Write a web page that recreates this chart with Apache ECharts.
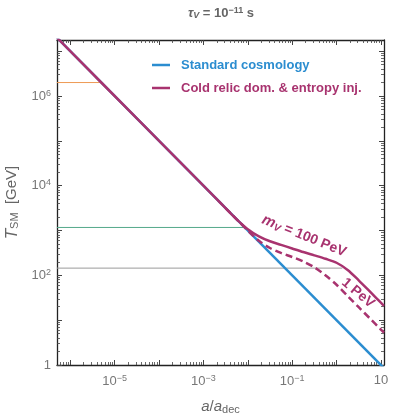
<!DOCTYPE html>
<html lang="en">
<head>
<meta charset="UTF-8">
<title>T_SM vs a/a_dec</title>
<script src="https://cdn.jsdelivr.net/npm/echarts@6/dist/echarts.min.js"></script>
<style>
  html, body { margin: 0; padding: 0; background: #fff; }
  #chartmain { width: 399px; height: 416px; }
</style>
</head>
<body>
<div id="chartmain"></div>
<script type="text/javascript">
// values: a/a_dec and T_SM [GeV]
var aStd = [5.0e-7, 11.7];
var TStd = [2.0e7, 0.855];

var a100 = [5.01e-7, 3.16e-5, 1.78e-3, 3.16e-3, 5.62e-3, 0.01, 0.0178, 0.0316, 0.0562, 0.1, 0.178, 0.316, 0.562, 1, 1.78, 3.16, 5.62, 10, 11.75];
var T100 = [2.0e7, 3.16e5, 5623, 3162, 1778, 1072, 741, 575, 479, 398, 331, 279, 234, 191, 132, 77.6, 43.7, 24.5, 20.9];

var a1 = [3.16e-3, 5.62e-3, 0.01, 0.0178, 0.0316, 0.0562, 0.1, 0.178, 0.316, 0.562, 1, 1.78, 3.16, 5.62, 10, 11.75];
var T1 = [3162, 1778, 1000, 589, 407, 316, 257, 204, 151, 100, 61.7, 34.7, 19.5, 11.0, 6.17, 5.25];

// horizontal reference lines
var aOrange = [5.0e-7, 5.0e-6];  var TOrange = [2.0e6, 2.0e6];
var aGreen = [5.0e-7, 8.9e-3];   var TGreen = [1170, 1170];
var aGray = [5.0e-7, 1.35];      var TGray = [145, 145];

var xTickLabels = [1e-5, 1e-3, 1e-1, 10];
var yTickLabels = [1, 1e2, 1e4, 1e6];

var xMin = -6.3, xMax = 1.07, yMin = 0, yMax = 7.25;

var blue = '#2b8dd0';
var purple = '#a8336f';

function pts(a, T) {
    var out = [];
    for (var i = 0; i < a.length; i++) out.push([Math.log10(a[i]), Math.log10(T[i])]);
    return out;
}
function majors(lo, hi) {
    var out = [];
    for (var n = Math.ceil(lo); n <= hi; n++) out.push(n);
    return out;
}
function minors(lo, hi) {
    var out = [];
    for (var n = Math.floor(lo); n <= hi; n++) {
        for (var k = 2; k <= 9; k++) {
            var v = n + Math.log10(k);
            if (v > lo && v < hi) out.push(v);
        }
    }
    return out;
}
function fmt(v) {
    var e = Math.round(v);
    if (e === 0) return '1';
    if (e === 1) return '10';
    return '10{sup|' + String(e).replace('-', '\u2212') + '}';
}
var labRich = {
    sup: { fontSize: 9, verticalAlign: 'top', color: '#777', padding: [0, 0, 6, 0] }
};

function axisSet(isX) {
    var lo = isX ? xMin : yMin, hi = isX ? xMax : yMax;
    var labs = (isX ? xTickLabels : yTickLabels).map(function (v) { return Math.log10(v); });
    var pos = isX ? ['bottom', 'top'] : ['left', 'right'];
    var list = [];
    pos.forEach(function (p, i) {
        list.push({
            type: 'value', position: p, min: lo, max: hi,
            axisLine: { show: true, onZero: false, lineStyle: { color: '#222', width: 1.3 } },
            splitLine: { show: false },
            axisTick: { show: true, inside: true, length: 5, customValues: majors(lo, hi), lineStyle: { color: '#444', width: 1 } },
            axisLabel: i === 0 ? {
                show: true, customValues: labs, formatter: fmt, rich: labRich,
                color: '#777', fontSize: 13, fontFamily: 'Liberation Sans', margin: isX ? 9 : 6
            } : { show: false }
        });
        list.push({
            type: 'value', position: p, min: lo, max: hi,
            axisLine: { show: false, onZero: false },
            splitLine: { show: false },
            axisLabel: { show: false },
            axisTick: { show: true, inside: true, length: 3, customValues: minors(lo, hi), lineStyle: { color: '#444', width: 0.8 } }
        });
    });
    return list;
}

var xAxes = axisSet(true);
xAxes[0].name = '{i|a}/{i|a}{sub|dec}';
xAxes[0].nameLocation = 'middle';
xAxes[0].nameGap = 33;
xAxes[0].nameTextStyle = {
    color: '#666', fontSize: 15, fontFamily: 'Liberation Sans',
    rich: {
        i: { fontStyle: 'italic', fontSize: 15, color: '#666' },
        sub: { fontSize: 11, verticalAlign: 'bottom', color: '#666', padding: [6, 0, 0, 0] }
    }
};
var yAxes = axisSet(false);
yAxes[0].name = '{i|T}{sub|SM}  [GeV]';
yAxes[0].nameLocation = 'middle';
yAxes[0].nameGap = 36;
yAxes[0].nameTextStyle = {
    color: '#666', fontSize: 15, fontFamily: 'Liberation Sans',
    rich: {
        i: { fontStyle: 'italic', fontSize: 17, color: '#666' },
        sub: { fontSize: 11, verticalAlign: 'bottom', color: '#666', padding: [6, 0, 0, 0] }
    }
};

function hline(name, a, T, color) {
    return {
        name: name, type: 'line', data: pts(a, T), symbol: 'none', silent: true,
        lineStyle: { color: color, width: 1 }, z: 1
    };
}

var myChart = echarts.init(document.getElementById('chartmain'), null, { renderer: 'canvas' });
var option = {
    animation: false,
    grid: { left: 57, right: 15, top: 40, bottom: 51, containLabel: false, outerBoundsMode: 'none' },
    xAxis: xAxes,
    yAxis: yAxes,
    legend: {
        left: 147, top: 52, orient: 'vertical', icon: 'rect',
        itemWidth: 18, itemHeight: 2.5, itemGap: 7,
        textStyle: { fontWeight: 'bold', fontSize: 13, lineHeight: 16, fontFamily: 'Liberation Sans', padding: [0, 0, 0, 6] },
        data: [
            { name: 'Standard cosmology', textStyle: { color: blue } },
            { name: 'Cold relic dom. & entropy inj.', textStyle: { color: purple } }
        ]
    },
    graphic: [
        {
            type: 'text', x: 221, y: 13,
            style: {
                text: '{g|\u03c4}{s|V}{t| = 10}{p|\u221211}{t| s}',
                align: 'center', verticalAlign: 'middle',
                rich: {
                    g: { fontSize: 13, fontWeight: 'bold', fontStyle: 'italic', fill: '#666', fontFamily: 'Liberation Sans' },
                    t: { fontSize: 13, fontWeight: 'bold', fill: '#666', fontFamily: 'Liberation Sans' },
                    s: { fontSize: 9, fontWeight: 'bold', fontStyle: 'italic', fill: '#666', verticalAlign: 'bottom', padding: [5, 0, 0, 0] },
                    p: { fontSize: 9, fontWeight: 'bold', fill: '#666', verticalAlign: 'top', padding: [0, 0, 5, 0] }
                }
            }
        },
        {
            type: 'text', x: 304, y: 236, rotation: -22 * Math.PI / 180,
            style: {
                text: '{m|m}{s|V}{t| = 100 PeV}', align: 'center', verticalAlign: 'middle',
                rich: {
                    m: { fontSize: 15, fontWeight: 'bold', fontStyle: 'italic', fill: purple, fontFamily: 'Liberation Sans' },
                    t: { fontSize: 14, fontWeight: 'bold', fill: purple, fontFamily: 'Liberation Sans' },
                    s: { fontSize: 10, fontWeight: 'bold', fontStyle: 'italic', fill: purple, verticalAlign: 'bottom', padding: [6, 0, 0, 0] }
                }
            }
        },
        {
            type: 'text', x: 358, y: 293, rotation: -40 * Math.PI / 180,
            style: {
                text: '1 PeV', align: 'center', verticalAlign: 'middle',
                fontSize: 14, fontWeight: 'bold', fill: purple, fontFamily: 'Liberation Sans'
            }
        }
    ],
    series: [
        hline('orange', aOrange, TOrange, '#ee9a55'),
        hline('green', aGreen, TGreen, '#55a98a'),
        hline('gray', aGray, TGray, '#9a9a9a'),
        {
            name: 'Standard cosmology', type: 'line', data: pts(aStd, TStd), symbol: 'none',
            lineStyle: { color: blue, width: 2.5 }, itemStyle: { color: blue }, z: 3
        },
        {
            name: '1 PeV', type: 'line', data: pts(a1, T1), symbol: 'none', smooth: 0.3,
            lineStyle: { color: purple, width: 2.5, type: [7, 4] }, itemStyle: { color: purple }, z: 4
        },
        {
            name: 'Cold relic dom. & entropy inj.', type: 'line', data: pts(a100, T100), symbol: 'none', smooth: 0.3,
            lineStyle: { color: purple, width: 2.5 }, itemStyle: { color: purple }, z: 5
        }
    ]
};
myChart.setOption(option);
</script>
</body>
</html>
